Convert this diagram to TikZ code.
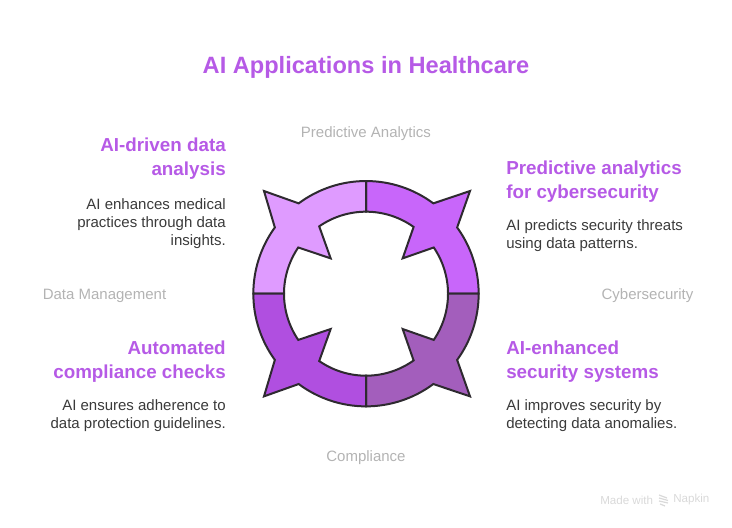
\documentclass[tikz,border=0pt]{standalone}
\usepackage{fontspec}
\setmainfont{Liberation Sans}
\definecolor{cTL}{HTML}{DF9BFF}
\definecolor{cTR}{HTML}{C866FA}
\definecolor{cBR}{HTML}{A35EBC}
\definecolor{cBL}{HTML}{B04FE0}
\definecolor{cHead}{HTML}{B65AE6}
\definecolor{cLab}{HTML}{B3B3B3}
\definecolor{cBody}{HTML}{3A3A3A}
\definecolor{cLine}{HTML}{2E2A30}
\definecolor{cFoot}{HTML}{D9D9D9}
\tikzset{
  seg/.style={draw=cLine,line width=1.5pt,line join=miter},
  titletext/.style={inner sep=0pt,text=cHead,font=\fontsize{17.7pt}{22pt}\selectfont\bfseries},
  headl/.style={inner sep=0pt,anchor=base west,text=cHead,font=\fontsize{14.1pt}{17pt}\selectfont\bfseries},
  headr/.style={inner sep=0pt,anchor=base east,text=cHead,font=\fontsize{14.1pt}{17pt}\selectfont\bfseries},
  bodyl/.style={inner sep=0pt,anchor=base west,text=cBody,font=\fontsize{11.25pt}{13pt}\selectfont},
  bodyr/.style={inner sep=0pt,anchor=base east,text=cBody,font=\fontsize{11.25pt}{13pt}\selectfont},
  sidelabel/.style={inner sep=0pt,text=cLab,font=\fontsize{11.25pt}{13pt}\selectfont},
  foot/.style={inner sep=0pt,text=cFoot,font=\fontsize{8.7pt}{10pt}\selectfont}
}
% #1 tip x, #2 notch x, #3 angle of the inner arc's end beside the notch
\newcommand{\ringseg}[3]{%
  (90:84.5pt) arc[start angle=90,end angle=53.3,radius=84.5pt]
  -- (#1,77pt) -- (36:84.5pt)
  arc[start angle=36,end angle=0,radius=84.5pt]
  -- (0:61.5pt) arc[start angle=0,end angle=34.3,radius=61.5pt]
  -- (#2,26.5pt) -- (#3:61.5pt)
  arc[start angle=#3,end angle=90,radius=61.5pt] -- cycle}
\begin{document}
\begin{tikzpicture}[x=.75pt,y=.75pt]
\useasboundingbox (0,0) rectangle (732,528);
\node[titletext] (title) at (366,461) {AI Applications in Healthcare};
\begin{scope}[shift={(366,234.3)}]
  \draw[seg,fill=cTR] \ringseg{78pt}{27.5pt}{54.5};
  \begin{scope}[xscale=-1]\draw[seg,fill=cTL] \ringseg{76.5pt}{26.5pt}{55.2};\end{scope}
  \begin{scope}[yscale=-1]\draw[seg,fill=cBR] \ringseg{78pt}{27.5pt}{54.5};\end{scope}
  \begin{scope}[xscale=-1,yscale=-1]\draw[seg,fill=cBL] \ringseg{76.5pt}{26.5pt}{55.2};\end{scope}
\end{scope}
\node[sidelabel] (l1) at (366,394) {Predictive Analytics};
\node[sidelabel] (l2) at (104.5,232) {Data Management};
\node[sidelabel] (l3) at (647.5,232) {Cybersecurity};
\node[sidelabel] (l4) at (366,70) {Compliance};
\node[headr] (a1) at (226,376.5) {AI-driven data};
\node[headr] (a2) at (226,352.5) {analysis};
\node[bodyr] (a3) at (226,318) {AI enhances medical};
\node[bodyr] (a4) at (226,300) {practices through data};
\node[bodyr] (a5) at (226,282) {insights.};
\node[headl] (b1) at (506,353) {Predictive analytics};
\node[headl] (b2) at (506,329) {for cybersecurity};
\node[bodyl] (b3) at (506,297) {AI predicts security threats};
\node[bodyl] (b4) at (506,279) {using data patterns.};
\node[headr] (c1) at (226,173) {Automated};
\node[headr] (c2) at (226,149) {compliance checks};
\node[bodyr] (c3) at (226,117) {AI ensures adherence to};
\node[bodyr] (c4) at (226,99) {data protection guidelines.};
\node[headl] (d1) at (506,173) {AI-enhanced};
\node[headl] (d2) at (506,149) {security systems};
\node[bodyl] (d3) at (506,117) {AI improves security by};
\node[bodyl] (d4) at (506,99) {detecting data anomalies.};
\node[foot,anchor=west] (f1) at (600,28) {Made with};
\node[foot,anchor=west] (f2) at (673,28) {Napkin};
\draw[cFoot,line width=.9pt] (659,33) -- (667,30) (659,30) -- (668,27.5) (659,27) -- (668,25) (660,24) -- (665,22);
\end{tikzpicture}
\end{document}
